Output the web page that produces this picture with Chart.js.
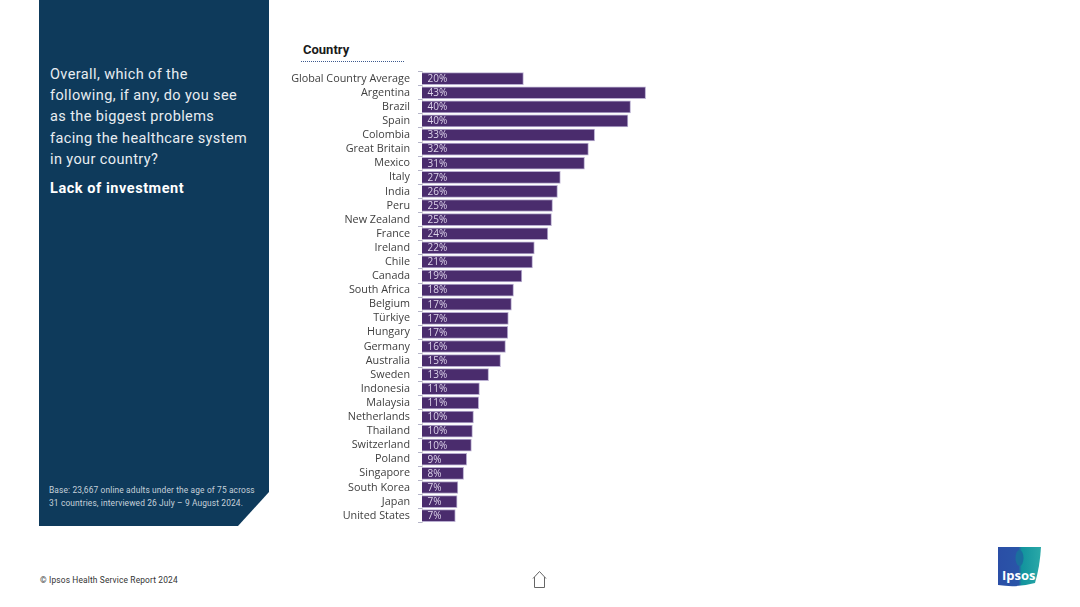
<!DOCTYPE html>
<html>
<head>
<meta charset="utf-8">
<style>
  html, body { margin: 0; padding: 0; background: #fff; }
  #page { position: relative; width: 1080px; height: 607px; overflow: hidden; font-family: Roboto, sans-serif; }
  #panel { position: absolute; left: 39px; top: 0; width: 230px; height: 526px; background: #0e3a5b;
    clip-path: polygon(0 0, 100% 0, 100% 492px, 199px 100%, 0 100%); color: #fff; }
  #question { position: absolute; left: 11px; top: 64px; white-space: nowrap; font-size: 14.5px; line-height: 21.2px; letter-spacing: 0.39px; color: #e8edf1; }
  #topic { position: absolute; left: 11px; top: 178px; font-size: 14.5px; font-weight: 700; letter-spacing: 0.55px; line-height: 21px; }
  #base { position: absolute; left: 10px; top: 484px; white-space: nowrap; font-size: 8.4px; line-height: 13.2px; letter-spacing: 0.13px; color: #c6d1da; }
  #heading { position: absolute; left: 303px; top: 42px; font-size: 13px; font-weight: 700; color: #1a1a1a; line-height: 15px; }
  #dots { position: absolute; left: 301px; top: 61px; width: 103px; border-top: 1.5px dotted #3d5a8e; }
  #copy { position: absolute; left: 40px; top: 575px; font-size: 8.4px; letter-spacing: 0.15px; color: #333; line-height: 11px; }
  canvas { position: absolute; left: 280px; top: 60px; }
  svg { position: absolute; }
</style>
</head>
<body>
<div id="page">
  <div id="panel">
    <div id="question">Overall, which of the<br>following, if any, do you see<br>as the biggest problems<br>facing the healthcare system<br>in your country?</div>
    <div id="topic">Lack of investment</div>
    <div id="base">Base: 23,667 online adults under the age of 75 across<br>31 countries, interviewed 26 July – 9 August 2024.</div>
  </div>
  <div id="heading">Country</div>
  <div id="dots"></div>
  <canvas id="chart" width="402" height="475"></canvas>
  <div id="copy">© Ipsos Health Service Report 2024</div>
  <svg style="left:532px;top:570px" width="15" height="19" viewBox="0 0 15 19">
    <path d="M1 8.5 L7.5 1.5 L14 8.5 M2.5 7 V17.5 H12.5 V7" fill="none" stroke="#666" stroke-width="1"/>
  </svg>
  <svg style="left:997px;top:546px" width="45" height="41" viewBox="0 0 45 41">
    <defs>
      <linearGradient id="logoFill" x1="0" x2="1" y1="0" y2="0">
        <stop offset="0" stop-color="#2a4ea6"/>
        <stop offset="0.48" stop-color="#2a55a8"/>
        <stop offset="0.55" stop-color="#12939d"/>
        <stop offset="1" stop-color="#2aa9a8"/>
      </linearGradient>
    </defs>
    <path d="M1 1 H44 Q43 20 38 37 Q20 42 1 39 Z" fill="url(#logoFill)"/>
    <ellipse cx="22.5" cy="12" rx="4" ry="8" fill="#1b6f9e"/>
    <text x="5" y="34" font-family="Open Sans" font-weight="700" font-size="13" fill="#fff">Ipsos</text>
  </svg>
</div>
<script src="https://cdn.jsdelivr.net/npm/chart.js@4/dist/chart.umd.js"></script>
<script>
const countries = ["Global Country Average", "Argentina", "Brazil", "Spain", "Colombia", "Great Britain", "Mexico", "Italy", "India", "Peru", "New Zealand", "France", "Ireland", "Chile", "Canada", "South Africa", "Belgium", "Türkiye", "Hungary", "Germany", "Australia", "Sweden", "Indonesia", "Malaysia", "Netherlands", "Thailand", "Switzerland", "Poland", "Singapore", "South Korea", "Japan", "United States"];
// bar lengths as measured, they run a little off the printed whole numbers
const barValues = [19.5, 43, 40.1, 39.6, 33.2, 32, 31.25, 26.6, 26.05, 25.1, 24.9, 24.2, 21.6, 21.25, 19.2, 17.6, 17.2, 16.6, 16.5, 16.05, 15.1, 12.8, 11.05, 10.9, 9.9, 9.7, 9.5, 8.6, 8, 6.9, 6.75, 6.4];
const printedLabels = ["20%", "43%", "40%", "40%", "33%", "32%", "31%", "27%", "26%", "25%", "25%", "24%", "22%", "21%", "19%", "18%", "17%", "17%", "17%", "16%", "15%", "13%", "11%", "11%", "10%", "10%", "10%", "9%", "8%", "7%", "7%", "7%"];

// draws the printed % inside each bar, near the base
const insideLabels = {
  id: "insideLabels",
  afterDatasetsDraw(chart) {
    const ctx = chart.ctx;
    const bars = chart.getDatasetMeta(0).data;
    ctx.save();
    ctx.font = "10px 'Open Sans'";
    ctx.fillStyle = "#ddd4ea";
    ctx.textBaseline = "middle";
    bars.forEach((bar, i) => {
      ctx.fillText(printedLabels[i], bar.base + 5.5, bar.y + 0.5);
    });
    ctx.restore();
  },
};

new Chart(document.getElementById("chart").getContext("2d"), {
  type: "bar",
  data: {
    labels: countries,
    datasets: [
      {
        data: barValues,
        backgroundColor: "#4a2c6d",
        borderColor: "#b9aed0",
        borderWidth: 1,
        barThickness: 12,
      },
    ],
  },
  options: {
    indexAxis: "y",
    responsive: false,
    animation: false,
    layout: { padding: { top: 11.6, bottom: 12.3 } },
    plugins: { legend: { display: false }, tooltip: { enabled: false } },
    scales: {
      x: { display: false, min: 0, max: 50 },
      y: {
        afterFit: (scale) => {
          scale.width = 142;
          // no extra room for the first and last label, the plot has to fill the padding box
          scale.paddingTop = 0;
          scale.paddingBottom = 0;
        },
        border: { color: "#d5d5d5" },
        grid: { drawOnChartArea: false, color: "#b5b5c8", tickLength: 4 },
        ticks: {
          autoSkip: false,
          color: "#404040",
          padding: 8,
          font: { family: "'Open Sans'", size: 10.8 },
        },
      },
    },
  },
  plugins: [insideLabels],
});
</script>
</body>
</html>
